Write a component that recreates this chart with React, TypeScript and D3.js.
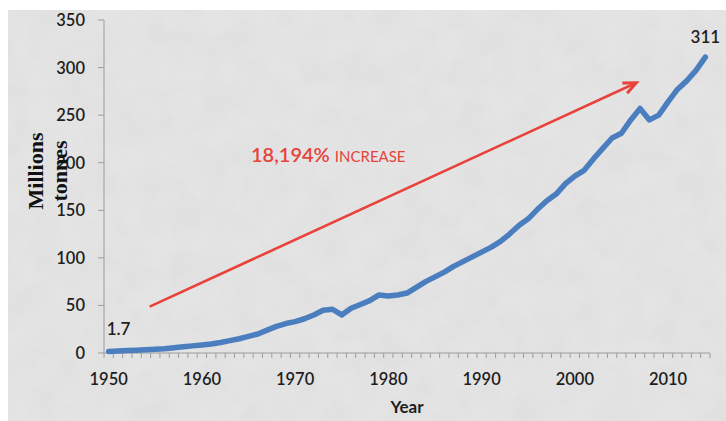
import React from "react";
import * as d3 from "d3";

// Global plastics production, million tonnes, 1950–2014
const years: number[] = d3.range(1950, 2015);
const production: number[] = [
  1.7, 2, 2.5, 3, 3.5, 4, 4.5, 5.5, 6.5, 7.5,
  8.5, 9.5, 11, 13, 15, 17.5, 20, 24, 28, 31,
  33, 36, 40, 45, 46, 40, 47, 51, 55, 61,
  60, 61, 63, 69, 75, 80, 85, 91, 96, 101,
  106, 111, 117, 125, 134, 141, 151, 160, 167, 178,
  186, 192, 204, 215, 226, 231, 245, 257, 245, 250,
  264, 277, 286, 297, 311,
];
const yTicks: number[] = [0, 50, 100, 150, 200, 250, 300, 350];
const xTickLabels: number[] = [1950, 1960, 1970, 1980, 1990, 2000, 2010];
const trendArrow: [number, number][] = [
  [1954.4, 48.7],
  [2006.6, 284],
];
const increaseLabel = { value: "18,194%", word: "INCREASE" };

const W = 726;
const H = 421;
const plot = { left: 104, right: 710, top: 20, bottom: 353 };
const font = "Lato, 'Open Sans', sans-serif";

export default function App() {
  const x = d3
    .scaleBand<number>()
    .domain(years)
    .range([plot.left, plot.right])
    .paddingInner(0)
    .paddingOuter(0);
  const bw = x.bandwidth();
  const cx = (yr: number) => (x(yr) as number) + bw / 2;
  const xCont = d3
    .scaleLinear()
    .domain([years[0], years[years.length - 1]])
    .range([cx(years[0]), cx(years[years.length - 1])]);
  const y = d3.scaleLinear().domain([0, 350]).range([plot.bottom, plot.top]);

  const line = d3
    .line<number>()
    .x((_, i) => cx(years[i]))
    .y((d) => y(d))
    .curve(d3.curveLinear);

  const boundaries = d3.range(years.length + 1).map((i) => plot.left + i * bw);

  const [a0, a1] = trendArrow;
  const ax0 = xCont(a0[0]);
  const ay0 = y(a0[1]);
  const ax1 = xCont(a1[0]);
  const ay1 = y(a1[1]);
  const ang = Math.atan2(ay1 - ay0, ax1 - ax0);
  const headLen = 14;
  const headSpread = 0.42;
  const h1 = [ax1 - headLen * Math.cos(ang - headSpread), ay1 - headLen * Math.sin(ang - headSpread)];
  const h2 = [ax1 - headLen * Math.cos(ang + headSpread), ay1 - headLen * Math.sin(ang + headSpread)];

  const firstV = production[0];
  const lastV = production[production.length - 1];

  return (
    <svg
      width={W}
      height={H}
      style={{ position: "fixed", left: 0, top: 0, display: "block" }}
    >
      <defs>
        <filter id="mottle" x="0" y="0" width="100%" height="100%">
          <feTurbulence type="fractalNoise" baseFrequency="0.035" numOctaves={4} seed={7} result="n" />
          <feColorMatrix
            in="n"
            type="matrix"
            values="0 0 0 0 0.5  0 0 0 0 0.5  0 0 0 0 0.5  0 0 0 0.9 -0.3"
          />
        </filter>
      </defs>
      <rect x={0} y={0} width={W} height={H} fill="#ffffff" />
      <rect x={8} y={10} width={W - 8} height={H - 10} fill="#e4e4e4" />
      <rect x={8} y={10} width={W - 8} height={H - 10} filter="url(#mottle)" opacity={0.22} />

      {/* axes */}
      <line x1={plot.left} x2={plot.left} y1={plot.top} y2={plot.bottom} stroke="#9c9c9c" strokeWidth={1} />
      <line x1={plot.left} x2={plot.right} y1={plot.bottom} y2={plot.bottom} stroke="#9c9c9c" strokeWidth={1} />
      {yTicks.map((t) => (
        <g key={t}>
          <line x1={plot.left - 6} x2={plot.left} y1={y(t)} y2={y(t)} stroke="#9c9c9c" />
          <text
            x={85}
            y={y(t)}
            dy="0.36em"
            textAnchor="end"
            fontFamily={font}
            fontSize={16.5}
            fontWeight={600}
            fill="#1e1e1e"
          >
            {t}
          </text>
        </g>
      ))}
      {boundaries.map((bx, i) => (
        <line key={i} x1={bx} x2={bx} y1={plot.bottom} y2={plot.bottom + 5} stroke="#9c9c9c" />
      ))}
      {xTickLabels.map((yr) => (
        <text
          key={yr}
          x={cx(yr)}
          y={385}
          textAnchor="middle"
          fontFamily={font}
          fontSize={16.5}
          fontWeight={600}
          fill="#1e1e1e"
        >
          {yr}
        </text>
      ))}
      <text
        x={(plot.left + plot.right) / 2}
        y={413}
        textAnchor="middle"
        fontFamily={font}
        fontSize={17}
        fontWeight={700}
        fill="#1e1e1e"
      >
        Year
      </text>
      <g transform="translate(43,171) rotate(-90)">
        <text textAnchor="middle" fontFamily="'Liberation Serif', 'Times New Roman', serif" fontSize={22} fontWeight={700} fill="#111">
          Millions
        </text>
      </g>
      <g transform="translate(67,171) rotate(-90)">
        <text textAnchor="middle" fontFamily="'Liberation Serif', 'Times New Roman', serif" fontSize={22} fontWeight={700} fill="#111">
          tonnes
        </text>
      </g>

      {/* production series */}
      <path
        d={line(production) ?? ""}
        fill="none"
        stroke="#4a7ebf"
        strokeWidth={5.5}
        strokeLinejoin="round"
        strokeLinecap="round"
      />

      {/* end-point values */}
      <text x={cx(years[0]) - 2} y={y(firstV) - 16} fontFamily={font} fontSize={17} fontWeight={600} fill="#1e1e1e">
        {firstV}
      </text>
      <text
        x={cx(years[years.length - 1])}
        y={y(lastV) - 14}
        textAnchor="middle"
        fontFamily={font}
        fontSize={17}
        fontWeight={600}
        fill="#1e1e1e"
      >
        {lastV}
      </text>

      {/* growth arrow */}
      <line x1={ax0} y1={ay0} x2={ax1} y2={ay1} stroke="#e8423a" strokeWidth={2.6} />
      <polyline
        points={`${h1[0]},${h1[1]} ${ax1},${ay1} ${h2[0]},${h2[1]}`}
        fill="none"
        stroke="#e8423a"
        strokeWidth={3}
        strokeLinejoin="miter"
      />
      <text x={251} y={162} fontFamily={font} fill="#e8423a">
        <tspan fontSize={20} fontWeight={600}>
          {increaseLabel.value}
        </tspan>
        <tspan fontSize={15} dx={5}>
          {increaseLabel.word}
        </tspan>
      </text>
    </svg>
  );
}
